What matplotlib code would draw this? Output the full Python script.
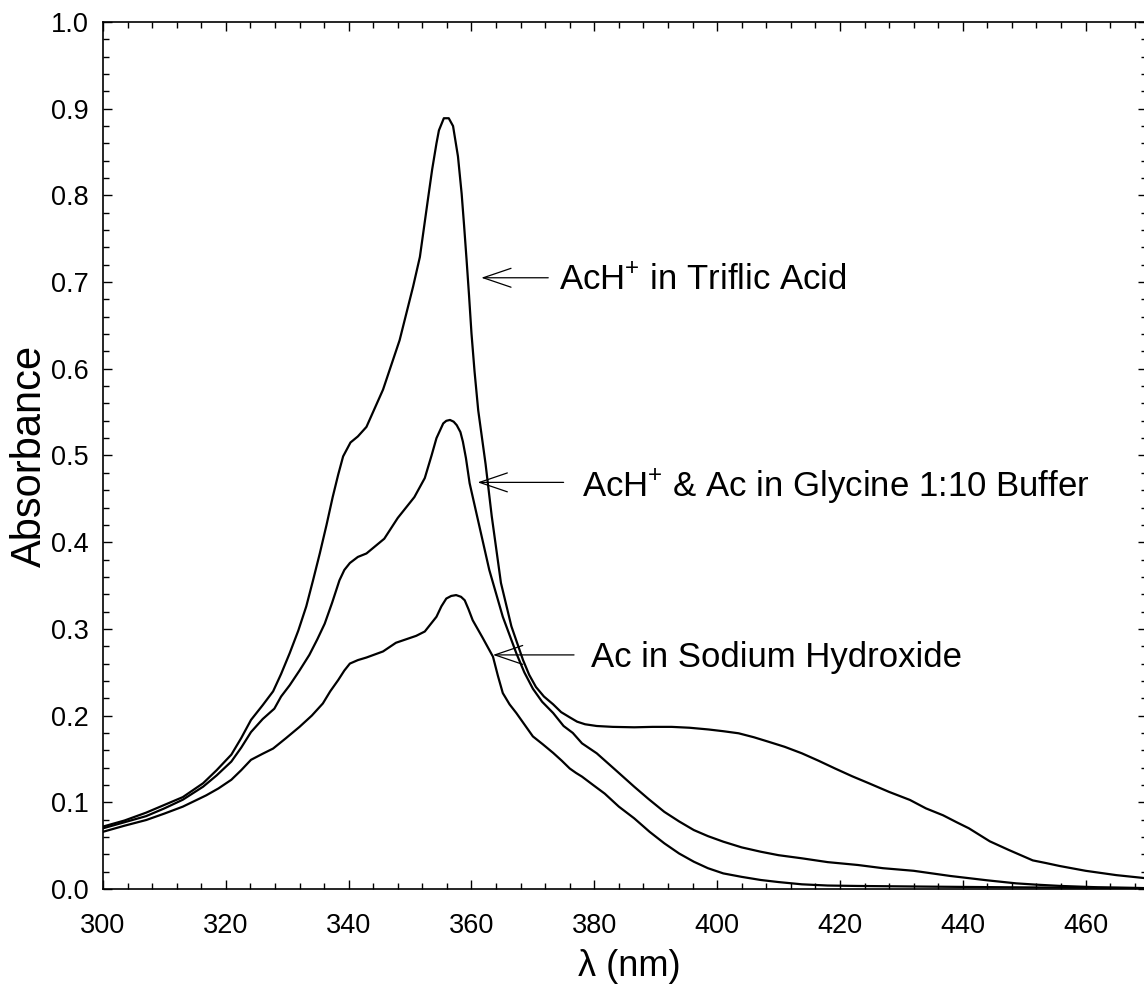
import matplotlib
matplotlib.use("Agg")
import matplotlib.pyplot as plt
from matplotlib.ticker import MultipleLocator, FormatStrFormatter

# ---- data ----
triflic_x = [300, 303.5, 307.0, 310.0, 313.0, 316.3, 318.5, 320.9, 322.5, 324.1, 326.0, 327.7,
             329.0, 330.4, 331.8, 333.1, 334.2, 335.3, 336.4, 337.4, 338.3, 339.1, 340.3, 341.5,
             342.9, 345.6, 348.3, 350.5, 351.6, 352.9, 353.6, 354.3, 354.7, 355.5, 356.3, 357.0,
             357.8, 358.4, 358.8, 359.2, 359.6, 360.0, 360.5, 361.1, 362.3, 363.3, 364.8, 366.5,
             368.4, 369.4, 370.5, 371.8, 373.3, 374.6, 376.0, 377.2, 378.5, 380.4, 383.0, 386.5,
             389.5, 392.6, 395.5, 398.6, 401.0, 403.5, 406.0, 408.3, 411.0, 413.8, 416.5, 419.2,
             422.0, 424.7, 428.0, 431.4, 434.0, 436.8, 439.0, 441.0, 444.4, 447.5, 451.4, 453.5,
             455.8, 460.0, 465.0, 470.0]
triflic_y = [0.072, 0.079, 0.088, 0.097, 0.106, 0.122, 0.137, 0.155, 0.174, 0.195, 0.212, 0.228,
             0.248, 0.272, 0.298, 0.326, 0.356, 0.387, 0.420, 0.452, 0.478, 0.499, 0.515, 0.522,
             0.533, 0.576, 0.633, 0.695, 0.729, 0.795, 0.830, 0.860, 0.875, 0.889, 0.889, 0.880,
             0.845, 0.802, 0.765, 0.726, 0.685, 0.641, 0.597, 0.552, 0.490, 0.430, 0.353, 0.303,
             0.264, 0.247, 0.233, 0.222, 0.213, 0.204, 0.198, 0.193, 0.190, 0.188, 0.187, 0.1865,
             0.187, 0.187, 0.186, 0.184, 0.182, 0.1796, 0.175, 0.170, 0.164, 0.1565, 0.148, 0.139,
             0.130, 0.122, 0.112, 0.1027, 0.093, 0.085, 0.077, 0.070, 0.055, 0.045, 0.033, 0.030,
             0.0265, 0.021, 0.016, 0.0123]

glycine_x = [300, 303.5, 307.0, 310.0, 313.0, 316.3, 318.5, 320.9, 322.5, 324.1, 326.0, 327.9,
             329.0, 330.4, 332.0, 333.6, 334.9, 336.1, 337.3, 338.5, 339.3, 340.2, 341.5, 342.9,
             345.8, 348.0, 350.7, 352.4, 353.5, 354.3, 355.4, 355.9, 356.5, 357.1, 357.6, 358.2,
             358.6, 359.1, 359.7, 361.3, 362.9, 365.1, 367.3, 368.6, 370.0, 371.5, 373.3, 375.0,
             376.5, 378.0, 380.4, 383.5, 386.5, 388.8, 391.4, 393.8, 396.2, 398.5, 401.0, 404.0,
             407.1, 410.0, 413.8, 418.0, 422.9, 427.0, 432.0, 435.0, 438.0, 441.0, 444.0, 448.7,
             452.0, 456.0, 462.0, 470.0]
glycine_y = [0.070, 0.077, 0.084, 0.093, 0.103, 0.118, 0.131, 0.147, 0.163, 0.181, 0.196, 0.208,
             0.222, 0.235, 0.252, 0.270, 0.288, 0.306, 0.330, 0.356, 0.368, 0.376, 0.383, 0.387,
             0.404, 0.428, 0.452, 0.474, 0.500, 0.520, 0.537, 0.540, 0.541, 0.539, 0.535, 0.527,
             0.516, 0.497, 0.468, 0.418, 0.368, 0.314, 0.272, 0.250, 0.231, 0.216, 0.203, 0.188,
             0.180, 0.168, 0.1565, 0.137, 0.118, 0.104, 0.089, 0.078, 0.068, 0.061, 0.0546, 0.048,
             0.043, 0.039, 0.0354, 0.031, 0.0277, 0.024, 0.021, 0.018, 0.015, 0.0125, 0.010, 0.0065,
             0.005, 0.0035, 0.002, 0.001]

sodium_x = [300, 303.5, 307.05, 310.0, 313.0, 316.8, 318.8, 320.9, 322.5, 324.1, 326.0, 327.7,
            329.8, 332.0, 334.0, 335.8, 337.0, 338.3, 339.3, 340.2, 341.5, 342.9, 345.6, 347.7,
            351.0, 352.4, 354.3, 355.1, 355.9, 356.7, 357.5, 358.3, 358.9, 359.5, 360.2, 361.8,
            363.5, 364.3, 365.1, 366.2, 367.3, 368.6, 370.0, 371.6, 373.3, 374.7, 376.0, 377.0,
            378.0, 379.8, 381.7, 384.0, 386.5, 389.0, 391.4, 393.8, 396.2, 398.5, 401.0, 404.0,
            407.1, 410.0, 413.8, 418.0, 422.9, 435.0, 447.1, 470.0]
sodium_y = [0.066, 0.073, 0.0796, 0.087, 0.095, 0.108, 0.116, 0.126, 0.137, 0.149, 0.156, 0.162,
            0.174, 0.187, 0.200, 0.214, 0.228, 0.241, 0.252, 0.260, 0.264, 0.267, 0.274, 0.284,
            0.292, 0.297, 0.314, 0.326, 0.335, 0.338, 0.339, 0.337, 0.333, 0.323, 0.310, 0.290,
            0.268, 0.246, 0.226, 0.213, 0.203, 0.190, 0.176, 0.167, 0.157, 0.148, 0.139, 0.134,
            0.1296, 0.120, 0.110, 0.095, 0.0815, 0.066, 0.0527, 0.041, 0.0315, 0.024, 0.018, 0.014,
            0.0104, 0.008, 0.0054, 0.004, 0.0035, 0.0027, 0.002, 0.001]

labels = ["AcH$^{+}$ in Triflic Acid",
          "AcH$^{+}$ & Ac in Glycine 1:10 Buffer",
          "Ac in Sodium Hydroxide"]
arrow_tips = [(361.6, 0.705), (361.0, 0.469), (363.5, 0.270)]
arrow_tails = [(372.5, 0.705), (375.0, 0.469), (376.7, 0.270)]
label_pos = [(374.3, 0.691), (378.0, 0.452), (379.5, 0.256)]

xlabel = "λ (nm)"
ylabel = "Absorbance"

# ---- style ----
plt.rcParams['font.family'] = ['Liberation Sans', 'DejaVu Sans']
plt.rcParams['mathtext.fontset'] = 'custom'
plt.rcParams['mathtext.rm'] = 'Liberation Sans'
plt.rcParams['mathtext.it'] = 'Liberation Sans'
plt.rcParams['mathtext.bf'] = 'Liberation Sans'

W, H = 1144, 1008
fig = plt.figure(figsize=(W / 100, H / 100), dpi=100)
ax = fig.add_axes([103 / W, 1 - 889 / H, (1147 - 103) / W, (889 - 22) / H])

for xs, ys in [(triflic_x, triflic_y), (glycine_x, glycine_y), (sodium_x, sodium_y)]:
    ax.plot(xs, ys, color='black', lw=1.6, solid_joinstyle='round')

for tip, tail, lab, lp in zip(arrow_tips, arrow_tails, labels, label_pos):
    ax.annotate('', xy=tip, xytext=tail,
                arrowprops=dict(arrowstyle='->,head_length=20,head_width=6.8',
                                mutation_scale=1, lw=0.9, color='black',
                                shrinkA=0, shrinkB=0))
    ax.text(lp[0], lp[1], lab, fontsize=25, ha='left', va='baseline')

ax.set_xlim(300, 470)
ax.set_ylim(0, 1.0)
ax.xaxis.set_major_locator(MultipleLocator(20))
ax.xaxis.set_minor_locator(MultipleLocator(4))
ax.yaxis.set_major_locator(MultipleLocator(0.1))
ax.yaxis.set_minor_locator(MultipleLocator(0.02))
ax.yaxis.set_major_formatter(FormatStrFormatter('%.1f'))

ax.tick_params(which='both', direction='in', top=True, right=True, width=1.0)
ax.tick_params(which='major', length=6.5)
ax.tick_params(which='minor', length=4)
ax.tick_params(axis='x', which='major', labelsize=19.5, pad=17)
ax.tick_params(axis='y', which='major', labelsize=19.5, pad=10)
for s in ax.spines.values():
    s.set_linewidth(1.2)

fig.text(30 / W, 1 - 456 / H, ylabel, fontsize=30, rotation=90, ha='center', va='center')
fig.text(629 / W, 1 - 966 / H, xlabel, fontsize=26, ha='center', va='center')

fig.savefig('out.png', dpi=100)
